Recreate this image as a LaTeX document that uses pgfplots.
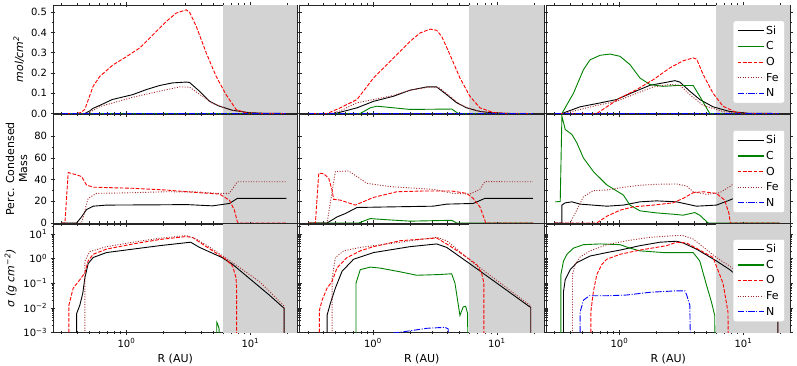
\documentclass[border=0pt]{standalone}
\usepackage{fontspec}
\setmainfont{DejaVu Sans}
\usepackage{pgfplots}
\pgfplotsset{compat=1.18}
\definecolor{lgray}{HTML}{D3D3D3}
\definecolor{mgreen}{HTML}{008000}
\definecolor{mbrown}{HTML}{A52A2A}
\definecolor{mred}{HTML}{FF0000}
\definecolor{mblue}{HTML}{0000FF}
\tikzset{
 plSi/.style={color=black, solid, line width=0.9pt, mark=none},
 plC/.style={color=mgreen, solid, line width=0.9pt, mark=none},
 plO/.style={color=mred, dash pattern=on 3.7pt off 1.6pt, line width=0.9pt, mark=none},
 plFe/.style={color=mbrown, dash pattern=on 1pt off 1.6pt, line width=0.9pt, mark=none},
 plN/.style={color=mblue, dash pattern=on 6.4pt off 1.6pt on 1pt off 1.6pt, line width=0.9pt, mark=none},
}
\pgfplotsset{
 every axis/.append style={
   axis line style={black!85, line width=0.7pt},
   tick style={black!85, line width=0.6pt},
   tick label style={font=\fontsize{10}{12}\selectfont},
   label style={font=\fontsize{11}{13}\selectfont},
 },
}
\newcommand{\shadelin}{\fill[lgray] (axis cs:6,0) rectangle ([xshift=-0.35pt,yshift=-0.35pt]rel axis cs:1,1);}
\newcommand{\shadelog}{\fill[lgray] (axis cs:6,0.001) rectangle ([xshift=-0.35pt,yshift=-0.35pt]rel axis cs:1,1);}
\newcommand{\legendkeys}{%
\addlegendimage{color=black, solid, line width=1.1pt}\addlegendentry{Si}%
\addlegendimage{color=mgreen, solid, line width=1.1pt}\addlegendentry{C}%
\addlegendimage{color=mred, dash pattern=on 3.7pt off 1.6pt, line width=1.1pt}\addlegendentry{O}%
\addlegendimage{color=mbrown, dash pattern=on 1pt off 1.6pt, line width=1.1pt}\addlegendentry{Fe}%
\addlegendimage{color=mblue, dash pattern=on 6.4pt off 1.6pt on 1pt off 1.6pt, line width=1.1pt}\addlegendentry{N}}
\begin{document}
\begin{tikzpicture}
% ---------------- Row 1 ----------------
\begin{axis}[scale only axis, width=244.5pt, height=108.5pt, xmode=log, xmin=0.256, xmax=24,
   xtick={1,10}, minor xtick={0.3,0.4,0.5,0.6,0.7,0.8,0.9,2,3,4,5,6,7,8,9,20}, xticklabels={},
   tick align=center, major tick length=5pt, minor tick length=3pt,
   ymin=0, ymax=0.535, ytick={0,0.1,0.2,0.3,0.4,0.5}, minor y tick num=1,
   anchor=north west, at={(0pt,0pt)}, yticklabels={0.0,0.1,0.2,0.3,0.4,0.5}, ylabel={\itshape mol/cm\textsuperscript{2}}]
\shadelin
\addplot[plSi] coordinates {(0.3,0)(0.4626,0)(0.5075,0.013)(0.5365,0.025)(0.6106,0.04)(0.77,0.069)(1.125,0.093)(1.45,0.118)(1.854,0.138)(2.359,0.151)(3.04,0.155)(3.231,0.153)(3.888,0.11)(4.679,0.06)(5.63,0.036)(7.161,0.016)(9.811,0.004)(13,0.001)(19.5,0)};
\addplot[plC] coordinates {(0.3,0)(19.5,0)};
\addplot[plO] coordinates {(0.3,0)(0.397,0)(0.43,0.005)(0.462,0.02)(0.539,0.134)(0.611,0.183)(0.781,0.24)(1.0,0.28)(1.28,0.323)(1.64,0.388)(2.1,0.454)(2.52,0.495)(3.04,0.511)(3.23,0.50)(3.66,0.43)(4.4,0.30)(5.3,0.183)(6.37,0.093)(7.67,0.02)(9.2,0.003)(12,0)(19.5,0)};
\addplot[plFe] coordinates {(0.3,0)(0.489,0)(0.52,0.01)(0.611,0.034)(1.125,0.08)(1.854,0.11)(2.685,0.131)(3.231,0.13)(3.888,0.095)(4.95,0.05)(7.161,0.015)(10,0.002)(19.5,0)};
\addplot[plN] coordinates {(0.3,0)(19.5,0)};
\end{axis}
\begin{axis}[scale only axis, width=244.5pt, height=108.5pt, xmode=log, xmin=0.256, xmax=24,
   xtick={1,10}, minor xtick={0.3,0.4,0.5,0.6,0.7,0.8,0.9,2,3,4,5,6,7,8,9,20}, xticklabels={},
   tick align=center, major tick length=5pt, minor tick length=3pt,
   ymin=0, ymax=0.535, ytick={0,0.1,0.2,0.3,0.4,0.5}, minor y tick num=1, yticklabels={},
   anchor=north west, at={(246.5pt,0pt)}]
\shadelin
\addplot[plSi] coordinates {(0.3,0)(0.4982,0)(0.7447,0.028)(1.012,0.06)(1.466,0.085)(1.997,0.115)(2.72,0.131)(3.267,0.131)(3.938,0.093)(4.74,0.053)(5.7,0.028)(7.3,0.01)(9.333,0.003)(13,0)(19.5,0)};
\addplot[plC] coordinates {(0.3,0)(0.7918,0)(0.9524,0.028)(1.078,0.036)(1.466,0.028)(1.997,0.02)(4.32,0.022)(4.882,0)(19.5,0)};
\addplot[plO] coordinates {(0.3,0)(0.4272,0)(0.5465,0.028)(0.7447,0.069)(1.012,0.175)(1.466,0.274)(1.997,0.356)(2.403,0.397)(2.891,0.416)(3.273,0.41)(3.59,0.38)(4.186,0.29)(5.038,0.175)(6.063,0.085)(7.296,0.028)(9.333,0.005)(12,0)(19.5,0)};
\addplot[plFe] coordinates {(0.3,0)(0.454,0)(0.5465,0.013)(0.7447,0.053)(1.012,0.069)(1.466,0.089)(1.997,0.115)(2.891,0.131)(3.416,0.128)(4.186,0.085)(5.038,0.045)(6.5,0.017)(9,0.002)(19.5,0)};
\addplot[plN] coordinates {(0.3,0)(19.5,0)};
\end{axis}
\begin{axis}[scale only axis, width=244.5pt, height=108.5pt, xmode=log, xmin=0.256, xmax=24,
   xtick={1,10}, minor xtick={0.3,0.4,0.5,0.6,0.7,0.8,0.9,2,3,4,5,6,7,8,9,20}, xticklabels={},
   tick align=center, major tick length=5pt, minor tick length=3pt,
   ymin=0, ymax=0.535, ytick={0,0.1,0.2,0.3,0.4,0.5}, minor y tick num=1, yticklabels={},
   anchor=north west, at={(493pt,0pt)},
   legend style={at={(0.977,0.475)}, anchor=east, draw=black!18, fill=white,
     rounded corners=2.5pt, font=\fontsize{11}{13}\selectfont, row sep=2pt, inner xsep=4pt, inner ysep=3pt, cells={anchor=west}},
   legend image code/.code={\draw[#1] (0pt,0pt) -- (26pt,0pt);}]
\shadelin
\addplot[plSi, forget plot] coordinates {(0.3,0)(0.344,0)(0.4827,0.033)(0.6577,0.049)(0.9524,0.069)(1.295,0.105)(1.764,0.139)(2.403,0.154)(2.802,0.162)(3.074,0.155)(3.698,0.11)(4.45,0.069)(5.693,0.033)(7.755,0.01)(11,0.001)(19.5,0)};
\addplot[plC, forget plot] coordinates {(0.3,0)(0.344,0)(0.4264,0.10)(0.5132,0.216)(0.5809,0.265)(0.6991,0.287)(0.841,0.293)(1.012,0.282)(1.218,0.241)(1.466,0.175)(1.764,0.143)(2.256,0.134)(2.891,0.138)(3.938,0.138)(4.45,0.085)(5.356,0)(19.5,0)};
\addplot[plO, forget plot] coordinates {(0.3,0)(0.6577,0)(0.7918,0.033)(1.012,0.077)(1.379,0.118)(1.879,0.167)(2.555,0.225)(3.267,0.26)(3.938,0.274)(4.2,0.268)(4.74,0.192)(5.693,0.10)(6.851,0.036)(8.779,0.005)(11,0)(19.5,0)};
\addplot[plFe, forget plot] coordinates {(0.3,0)(0.3544,0)(0.6577,0.04)(0.9524,0.06)(1.295,0.093)(1.875,0.131)(2.555,0.143)(3.074,0.14)(3.698,0.093)(4.74,0.04)(6.851,0.01)(9.5,0)(19.5,0)};
\addplot[plN, forget plot] coordinates {(0.3,0)(19.5,0)};
\legendkeys
\end{axis}
% ---------------- Row 2 ----------------
\begin{axis}[scale only axis, width=244.5pt, height=108.5pt, xmode=log, xmin=0.256, xmax=24,
   xtick={1,10}, minor xtick={0.3,0.4,0.5,0.6,0.7,0.8,0.9,2,3,4,5,6,7,8,9,20}, xticklabels={},
   tick align=center, major tick length=5pt, minor tick length=3pt,
   ymin=0, ymax=100, ytick={0,20,40,60,80}, minor y tick num=1,
   anchor=north west, at={(0pt,-109.5pt)}, yticklabels={0,20,40,60,80}, ylabel={Perc. Condensed\\Mass}, ylabel style={align=center}]
\shadelin
\addplot[plSi] coordinates {(0.3,0)(0.3968,0)(0.4351,5.6)(0.4773,12.4)(0.5395,15.5)(0.6914,16.5)(2.072,16.8)(3.04,17)(4.946,15.8)(6.776,18)(7.856,22.7)(19.5,22.7)};
\addplot[plC] coordinates {(0.3,0)(19.5,0)};
\addplot[plO] coordinates {(0.3,0)(0.3195,0)(0.3396,46.5)(0.3968,44.4)(0.4351,42.8)(0.4773,35)(0.5395,33)(1.125,32)(2.072,30.4)(3.888,27.9)(5.63,26.7)(6.776,21)(7.432,11.8)(7.856,1)(8.0,0)(19.5,0)};
\addplot[plFe] coordinates {(0.3,0)(0.4351,0)(0.46,10)(0.4773,18)(0.4918,22.7)(0.5745,27.3)(1.125,27.9)(2.072,28.8)(3.888,28.6)(5.297,27.3)(6.776,27.3)(7.856,38)(19.5,38)};
\addplot[plN] coordinates {(0.3,0)(19.5,0)};
\end{axis}
\begin{axis}[scale only axis, width=244.5pt, height=108.5pt, xmode=log, xmin=0.256, xmax=24,
   xtick={1,10}, minor xtick={0.3,0.4,0.5,0.6,0.7,0.8,0.9,2,3,4,5,6,7,8,9,20}, xticklabels={},
   tick align=center, major tick length=5pt, minor tick length=3pt,
   ymin=0, ymax=100, ytick={0,20,40,60,80}, minor y tick num=1, yticklabels={},
   anchor=north west, at={(246.5pt,-109.5pt)}]
\shadelin
\addplot[plSi] coordinates {(0.3,0)(0.4272,0)(0.5142,5.6)(0.5995,8.7)(0.7447,14.3)(1.466,14.9)(3.074,15.5)(3.938,17.4)(6.445,18)(8.004,22.7)(19.5,22.7)};
\addplot[plC] coordinates {(0.3,0)(0.7672,0)(0.9524,4.1)(1.218,3.2)(2.0,1.7)(4.32,2.5)(4.74,0)(19.5,0)};
\addplot[plO] coordinates {(0.3,0)(0.344,0)(0.3658,46)(0.4013,45.4)(0.44,41.3)(0.4686,30.4)(0.4827,21.8)(0.5465,21.1)(0.7215,16.5)(1.012,23.6)(1.561,28.8)(2.555,29.5)(4.32,29.5)(5.703,27.3)(6.445,22.7)(7.296,14.9)(8.004,2.5)(8.1,0)(19.5,0)};
\addplot[plFe] coordinates {(0.3,0)(0.4272,0)(0.4982,47.4)(0.6372,48)(0.7447,42.8)(0.896,36.6)(1.379,33.5)(3.074,31)(4.45,27.3)(6.063,26.7)(7.296,31)(8.004,38.1)(19.5,38)};
\addplot[plN] coordinates {(0.3,0)(19.5,0)};
\end{axis}
\begin{axis}[scale only axis, width=244.5pt, height=108.5pt, xmode=log, xmin=0.256, xmax=24,
   xtick={1,10}, minor xtick={0.3,0.4,0.5,0.6,0.7,0.8,0.9,2,3,4,5,6,7,8,9,20}, xticklabels={},
   tick align=center, major tick length=5pt, minor tick length=3pt,
   ymin=0, ymax=100, ytick={0,20,40,60,80}, minor y tick num=1, yticklabels={},
   anchor=north west, at={(493pt,-109.5pt)},
   legend style={at={(0.977,0.475)}, anchor=east, draw=black!18, fill=white,
     rounded corners=2.5pt, font=\fontsize{11}{13}\selectfont, row sep=2pt, inner xsep=4pt, inner ysep=3pt, cells={anchor=west}},
   legend image code/.code={\draw[#1] (0pt,0pt) -- (26pt,0pt);}]
\shadelin
\addplot[plSi, forget plot] coordinates {(0.3,0)(0.344,0)(0.344,16.5)(0.3658,18.6)(0.414,19.5)(0.4827,17.4)(0.7918,15.5)(1.076,16.5)(1.466,19.5)(1.997,20.4)(2.891,19.5)(4.186,15.5)(6.063,16.5)(7.755,21.1)(9.333,24.8)(19.5,25)};
\addplot[plC, forget plot] coordinates {(0.304,19.5)(0.3334,19.8)(0.344,98.6)(0.3658,86.2)(0.414,81.6)(0.454,73.9)(0.5132,59.9)(0.6175,47.4)(0.7918,35.1)(1.076,25.8)(1.218,16.5)(1.466,11.2)(1.997,9.3)(2.715,8.1)(3.267,7.2)(4.056,9.6)(4.45,7.2)(5.2,0)(19.5,0)};
\addplot[plO, forget plot] coordinates {(0.3,0)(0.6577,0)(0.7918,6.2)(1.012,11.8)(1.295,14.9)(1.875,16.5)(2.715,18.6)(3.267,22.7)(3.938,27.9)(4.74,28.8)(6.063,27.3)(7.07,21.1)(7.656,8.7)(7.856,0)(19.5,0)};
\addplot[plFe, forget plot] coordinates {(0.3,0)(0.4013,0)(0.5132,24.2)(0.6175,29.8)(0.7918,30.4)(1.076,32.9)(1.466,34.8)(1.997,35.7)(2.891,36)(3.479,34.1)(3.938,28.8)(5.038,26.4)(6.445,27.9)(7.755,33.5)(8.779,38.1)(19.5,38)};
\addplot[plN, forget plot] coordinates {(0.3,0)(19.5,0)};
\legendkeys
\end{axis}
% ---------------- Row 3 ----------------
\begin{axis}[scale only axis, width=244.5pt, height=108.5pt, xmode=log, xmin=0.256, xmax=24,
   xtick={1,10}, minor xtick={0.3,0.4,0.5,0.6,0.7,0.8,0.9,2,3,4,5,6,7,8,9,20},
   xticklabels={10\textsuperscript{0},10\textsuperscript{1}}, xlabel={R (AU)},
   tick align=center, major tick length=5pt, minor tick length=3pt,
   ymode=log, ymin=1e-3, ymax=25, ytick={0.001,0.01,0.1,1,10},
   minor ytick={0.002,0.003,0.004,0.005,0.006,0.007,0.008,0.009,0.02,0.03,0.04,0.05,0.06,0.07,0.08,0.09,0.2,0.3,0.4,0.5,0.6,0.7,0.8,0.9,2,3,4,5,6,7,8,9,20},
   anchor=north west, at={(0pt,-219pt)},
   yticklabels={10\textsuperscript{−3},10\textsuperscript{−2},10\textsuperscript{−1},10\textsuperscript{0},10\textsuperscript{1}}, ylabel={\itshape σ (g cm\textsuperscript{−2})}]
\shadelog
\addplot[plSi] coordinates {(0.3968,1e-6)(0.3968,0.00575)(0.4217,0.0129)(0.445,0.0389)(0.4626,0.162)(0.4918,0.617)(0.5395,1.096)(0.6914,1.738)(1.13,2.399)(1.854,3.311)(3.3,4.571)(3.888,2.82)(5.9,1.096)(7.2,0.575)(11.8,0.072)(14.2,0.0331)(18.75,0.0095)(18.75,1e-6)};
\addplot[plC] coordinates {(5.35,1e-6)(5.36,0.0026)(5.45,0.0022)(5.6,0.0014)(5.62,1e-6)};
\addplot[plO] coordinates {(0.344,1e-6)(0.344,0.0129)(0.3726,0.063)(0.4217,0.138)(0.4626,0.263)(0.4918,0.794)(0.5395,1.479)(0.6914,2.399)(1.13,3.89)(1.854,5.89)(3.04,7.76)(3.44,7.08)(3.888,4.57)(4.97,2.04)(6.33,0.933)(7.2,0.49)(7.67,0.162)(7.755,0.05)(7.755,1e-6)};
\addplot[plFe] coordinates {(0.4626,1e-6)(0.4626,0.79)(0.5075,1.905)(0.6914,3.02)(1.13,4.57)(1.854,6.61)(3.04,8.51)(3.66,6.17)(4.97,2.4)(7.2,0.676)(11.8,0.117)(14.2,0.047)(18.75,0.0117)(18.75,1e-6)};
\addplot[plN] coordinates {(0.3,1e-6)(19.5,1e-6)};
\end{axis}
\begin{axis}[scale only axis, width=244.5pt, height=108.5pt, xmode=log, xmin=0.256, xmax=24,
   xtick={1,10}, minor xtick={0.3,0.4,0.5,0.6,0.7,0.8,0.9,2,3,4,5,6,7,8,9,20},
   xticklabels={10\textsuperscript{0},10\textsuperscript{1}}, xlabel={R (AU)},
   tick align=center, major tick length=5pt, minor tick length=3pt,
   ymode=log, ymin=1e-3, ymax=25, ytick={0.001,0.01,0.1,1,10}, yticklabels={},
   minor ytick={0.002,0.003,0.004,0.005,0.006,0.007,0.008,0.009,0.02,0.03,0.04,0.05,0.06,0.07,0.08,0.09,0.2,0.3,0.4,0.5,0.6,0.7,0.8,0.9,2,3,4,5,6,7,8,9,20},
   anchor=north west, at={(246.5pt,-219pt)}]
\shadelog
\addplot[plSi] coordinates {(0.4272,1e-6)(0.4272,0.005)(0.454,0.0151)(0.4982,0.063)(0.5641,0.302)(0.6991,0.933)(1.012,1.738)(1.997,3.02)(3.273,3.89)(3.938,2.82)(6.445,0.49)(18.4,0.011)(18.75,0.0105)(18.75,1e-6)};
\addplot[plC] coordinates {(0.7309,1e-6)(0.7309,0.1)(0.7918,0.355)(0.9524,0.447)(1.146,0.407)(1.66,0.288)(2.26,0.209)(3.479,0.224)(4.32,0.24)(4.593,0.1)(5.038,0.0049)(5.356,0.011)(5.599,0.0115)(5.809,0.006)(5.875,1e-6)};
\addplot[plO] coordinates {(0.3706,1e-6)(0.3706,0.00794)(0.3896,0.0204)(0.4272,0.063)(0.4686,0.1175)(0.5142,0.417)(0.6186,1.096)(0.7918,2.04)(1.012,3.02)(1.66,5.25)(3.273,6.76)(3.938,3.89)(5.038,1.738)(6.864,0.575)(7.529,0.263)(7.856,0.1)(7.856,1e-6)};
\addplot[plFe] coordinates {(0.4686,1e-6)(0.4686,0.15)(0.4982,1.096)(0.5809,2.04)(0.7918,2.82)(1.66,4.57)(3.273,7.24)(3.938,5.25)(6.445,0.676)(18.4,0.0129)(18.75,0.0125)(18.75,1e-6)};
\addplot[plN] coordinates {(1.2,0.0007)(1.466,0.00095)(1.997,0.00117)(2.72,0.00148)(3.816,0.00162)(4.056,0.0014)(4.11,1e-6)};
\end{axis}
\begin{axis}[scale only axis, width=244.5pt, height=108.5pt, xmode=log, xmin=0.256, xmax=24,
   xtick={1,10}, minor xtick={0.3,0.4,0.5,0.6,0.7,0.8,0.9,2,3,4,5,6,7,8,9,20},
   xticklabels={10\textsuperscript{0},10\textsuperscript{1}}, xlabel={R (AU)},
   tick align=center, major tick length=5pt, minor tick length=3pt,
   ymode=log, ymin=1e-3, ymax=25, ytick={0.001,0.01,0.1,1,10}, yticklabels={},
   minor ytick={0.002,0.003,0.004,0.005,0.006,0.007,0.008,0.009,0.02,0.03,0.04,0.05,0.06,0.07,0.08,0.09,0.2,0.3,0.4,0.5,0.6,0.7,0.8,0.9,2,3,4,5,6,7,8,9,20},
   anchor=north west, at={(493pt,-219pt)},
   legend style={at={(0.977,0.48)}, anchor=east, draw=black!18, fill=white,
     rounded corners=2.5pt, font=\fontsize{11}{13}\selectfont, row sep=2pt, inner xsep=4pt, inner ysep=3pt, cells={anchor=west}},
   legend image code/.code={\draw[#1] (0pt,0pt) -- (26pt,0pt);}]
\shadelog
\addplot[plSi, forget plot] coordinates {(0.3544,1e-6)(0.3544,0.0457)(0.3658,0.138)(0.4013,0.355)(0.454,0.676)(0.5809,1.259)(0.7918,1.738)(1.012,2.19)(1.466,3.31)(2.123,4.57)(2.891,5.01)(3.267,4.27)(4.186,2.4)(6.063,0.794)(7.755,0.355)(18.97,0.0093)(18.97,1e-6)};
\addplot[plC, forget plot] coordinates {(0.3378,1e-6)(0.3378,0.224)(0.3544,0.794)(0.3775,1.479)(0.4264,2.63)(0.5132,3.63)(0.6991,3.89)(1.012,3.63)(1.218,2.63)(1.466,2.04)(2.256,1.738)(3.938,1.738)(4.45,0.794)(5.038,0.085)(5.527,0.0174)(5.875,0.0049)(5.952,1e-6)};
\addplot[plO, forget plot] coordinates {(0.5885,1e-6)(0.5885,0.0068)(0.6175,0.0457)(0.6577,0.224)(0.7215,0.575)(0.7918,0.933)(1.012,1.479)(1.466,2.19)(2.403,3.31)(2.891,4.57)(3.479,4.27)(4.45,2.19)(5.693,1.096)(6.851,0.1)(7.515,0.0068)(7.656,1e-6)};
\addplot[plFe, forget plot] coordinates {(0.4186,1e-6)(0.4186,0.224)(0.44,0.575)(0.4827,1.148)(0.5809,2.04)(0.7918,3.63)(1.146,5.25)(1.764,7.24)(2.891,8.51)(3.267,8.51)(3.938,6.17)(6.063,1.096)(7.755,0.49)(18.97,0.0151)(18.97,1e-6)};
\addplot[plN, forget plot] coordinates {(0.4827,1e-6)(0.4827,0.0068)(0.5132,0.0204)(0.5735,0.0309)(0.7918,0.0309)(1.146,0.0331)(1.764,0.0427)(2.891,0.049)(3.371,0.049)(3.479,0.035)(3.698,0.0129)(3.816,1e-6)};
\legendkeys
\end{axis}
\pgfresetboundingbox
\path[use as bounding box] (-53pt,5pt) rectangle (744pt,-361pt);
\end{tikzpicture}
\end{document}
